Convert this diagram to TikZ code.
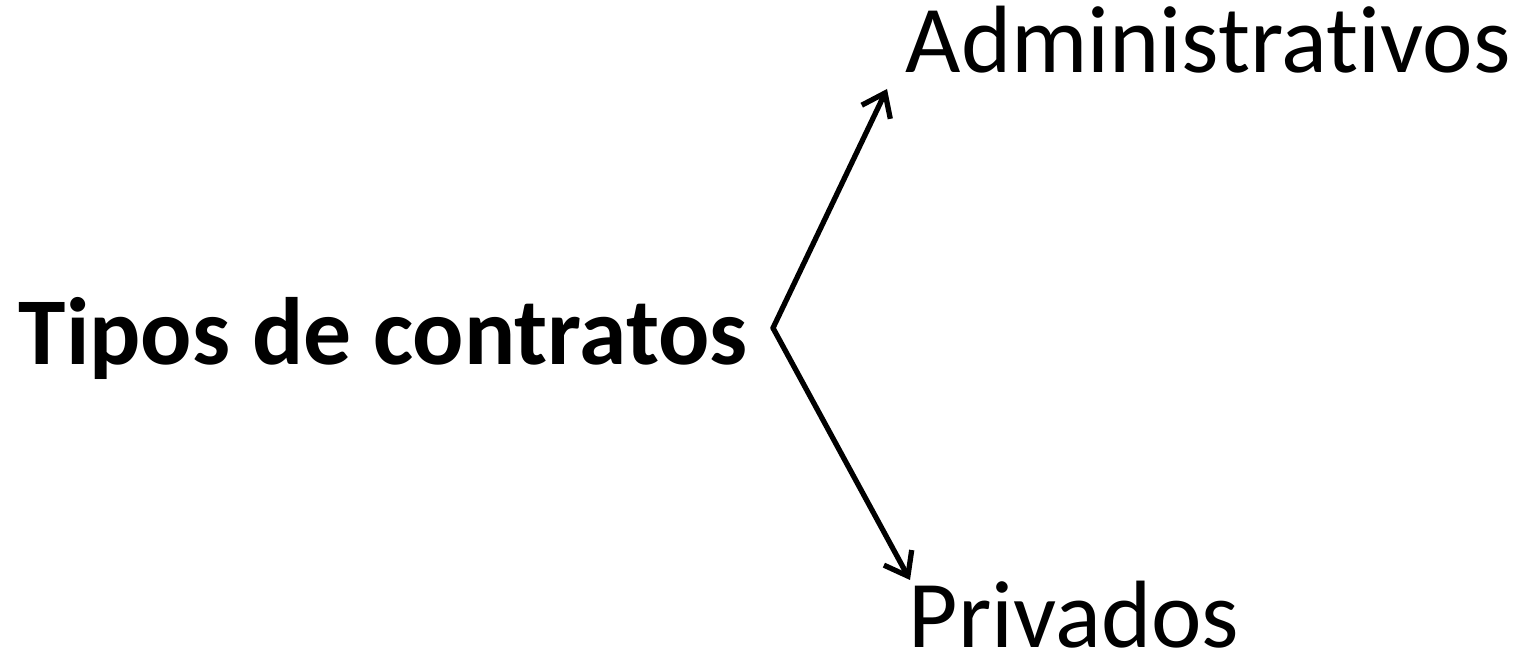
\documentclass[tikz,border=0pt]{standalone}
\usepackage{fontspec}
\setmainfont{Carlito}[Ligatures=NoCommon]
\usetikzlibrary{arrows.meta}
\begin{document}
\begin{tikzpicture}[x=0.01cm,y=-0.01cm,
  lbl/.style={inner sep=0pt,anchor=base west,font=\fontsize{27.2pt}{32pt}\selectfont},
  conn/.style={line width=1.5pt,line cap=round,-{Straight Barb[length=6pt,width=9pt,line width=1.5pt]}}]
\useasboundingbox (0,0) rectangle (1517,658);
\node[lbl,font=\fontsize{27.2pt}{32pt}\selectfont\bfseries] (tipos) at (18,365) {Tipos de contratos};
\node[lbl] (adm) at (905,73) {Administrativos};
\node[lbl] (priv) at (908,648) {Privados};
\coordinate (v) at (773,328);
\coordinate (a1) at (887,89);
\coordinate (a2) at (910,580);
\draw[conn] (v) -- (a1);
\draw[conn] (v) -- (a2);
\end{tikzpicture}
\end{document}
